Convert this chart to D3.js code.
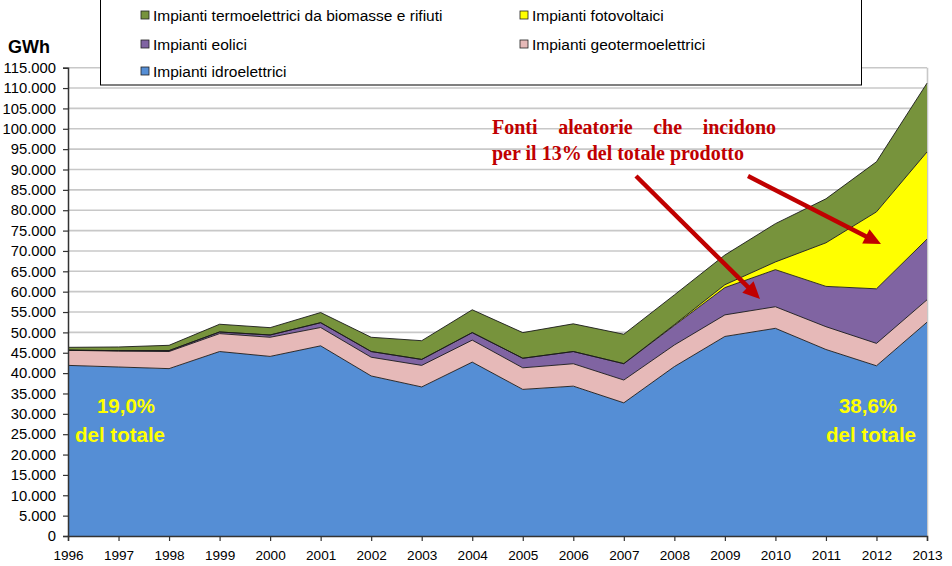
<!DOCTYPE html>
<html><head><meta charset="utf-8">
<script src="https://cdn.jsdelivr.net/npm/d3@7/dist/d3.min.js"></script>
<style>body{margin:0;background:#fff}svg{display:block}</style>
</head><body>
<svg id="chart" width="952" height="566"></svg>
<script>
// ---- data (GWh) ----
const years = [1996,1997,1998,1999,2000,2001,2002,2003,2004,2005,2006,2007,2008,2009,2010,2011,2012,2013];
const idroelettrici   = [41900,41500,41100,45300,44100,46700,39300,36600,42700,36000,36800,32700,41600,49000,51000,45800,41800,52500];
const geotermoelettrici = [3700,3900,4200,4400,4700,4500,4600,5300,5400,5300,5500,5600,5300,5300,5300,5600,5500,5500];
const eolici          = [30,120,230,400,560,1180,1400,1460,1850,2350,3000,4000,4800,6700,9100,9900,13400,14900];
const fotovoltaici    = [0,0,0,0,0,0,0,0,0,0,0,40,200,700,1900,10700,18900,21400];
const biomasse        = [700,900,1300,1900,1800,2500,3500,4600,5600,6300,6800,7200,7300,7300,9400,10800,12300,16900];
const yTicks = d3.range(0, 115001, 5000);

const seriesKeys = ["idro","geo","eol","fv","bio"];
const seriesNames = {
  bio:"Impianti termoelettrici da biomasse e rifiuti",
  fv:"Impianti fotovoltaici",
  eol:"Impianti eolici",
  geo:"Impianti geotermoelettrici",
  idro:"Impianti idroelettrici"
};
const legendOrder = ["bio","fv","eol","geo","idro"];
const colors = {idro:"#558ED5", geo:"#E6B9B8", eol:"#8064A2", fv:"#FFFF00", bio:"#77933C"};

const table = years.map((y,i)=>({year:y, idro:idroelettrici[i], geo:geotermoelettrici[i], eol:eolici[i], fv:fotovoltaici[i], bio:biomasse[i]}));

// ---- layout ----
const svg = d3.select("#chart");
const L = 68, R = 927, T = 67.7, B = 536;
const x = d3.scaleLinear().domain([1996, 2013]).range([L, R]);
const y = d3.scaleLinear().domain([0, 115000]).range([B, T]);
const it = d3.formatLocale({decimal:",", thousands:".", grouping:[3], currency:["€",""]});
const fmt = it.format(",");

// gridlines
svg.append("g").selectAll("line").data(yTicks.filter(d=>d>0)).join("line")
  .attr("x1", L).attr("x2", R).attr("y1", d=>y(d)).attr("y2", d=>y(d))
  .attr("stroke", "#C8C8C8").attr("stroke-width", 1.6);
// plot border right
svg.append("line").attr("x1", R+0.5).attr("x2", R+0.5).attr("y1", T).attr("y2", B)
  .attr("stroke", "#C8C8C8").attr("stroke-width", 1.6);

// stacked areas
const stack = d3.stack().keys(seriesKeys)(table);
const area = d3.area().x(d=>x(d.data.year)).y0(d=>y(d[0])).y1(d=>y(d[1]));
const topLine = d3.line().x(d=>x(d.data.year)).y(d=>y(d[1]));
svg.append("g").selectAll("path").data(stack).join("path")
  .attr("d", area).attr("fill", d=>colors[d.key]);
svg.append("g").selectAll("path").data(stack).join("path")
  .attr("d", topLine).attr("fill", "none").attr("stroke", "#1a1a1a").attr("stroke-width", 0.9);

// axes
const yAxis = svg.append("g").attr("transform", `translate(${L},0)`)
  .call(d3.axisLeft(y).tickValues(yTicks).tickFormat(fmt).tickSize(5).tickPadding(7));
const xAxis = svg.append("g").attr("transform", `translate(0,${B})`)
  .call(d3.axisBottom(x).tickValues(years).tickFormat(d3.format("d")).tickSize(5).tickPadding(9));
[yAxis, xAxis].forEach(a=>{
  a.select(".domain").attr("stroke", "#333").attr("stroke-width", 1.5);
  a.selectAll(".tick line").attr("stroke", "#333").attr("stroke-width", 1.2);
  a.selectAll("text").attr("fill", "#000").attr("font-family", "Liberation Sans, Arial, sans-serif");
});
yAxis.selectAll("text").attr("font-size", 14.8);
xAxis.selectAll("text").attr("font-size", 13.6);

svg.append("text").attr("x", 8).attr("y", 53).text("GWh")
  .attr("font-family", "Liberation Sans, Arial, sans-serif").attr("font-weight", "bold").attr("font-size", 18);

// legend
svg.append("rect").attr("x", 100.5).attr("y", -1).attr("width", 761).attr("height", 86)
  .attr("fill", "#fff").attr("stroke", "#000").attr("stroke-width", 1);
const colX = [141, 520], rowY = [15, 44, 71];
const lg = svg.append("g").selectAll("g").data(legendOrder).join("g")
  .attr("transform", (d,i)=>`translate(${colX[i%2]},${rowY[Math.floor(i/2)]})`);
lg.append("rect").attr("x", 0).attr("y", -4).attr("width", 8).attr("height", 8)
  .attr("fill", d=>colors[d]).attr("stroke", "#222").attr("stroke-width", 0.8);
lg.append("text").attr("x", 12).attr("y", 5.5).text(d=>seriesNames[d])
  .attr("font-family", "Liberation Sans, Arial, sans-serif").attr("font-size", 15.5).attr("fill", "#000");

// yellow share labels
const shareStyle = s=>s.attr("font-family","Liberation Sans, Arial, sans-serif").attr("font-weight","bold")
  .attr("font-size",20.5).attr("fill","#FFFF00").attr("text-anchor","middle");
svg.append("text").attr("x", 126).attr("y", 413).text("19,0%").call(shareStyle);
svg.append("text").attr("x", 120).attr("y", 442).text("del totale").call(shareStyle);
svg.append("text").attr("x", 868).attr("y", 413).text("38,6%").call(shareStyle);
svg.append("text").attr("x", 871).attr("y", 442).text("del totale").call(shareStyle);

// annotation
const red = "#C00000";
const annStyle = s=>s.attr("font-family","Liberation Serif, DejaVu Serif, serif").attr("font-weight","bold")
  .attr("font-size",20).attr("fill",red);
const words = ["Fonti","aleatorie","che","incidono"];
const wg = svg.append("g");
const wt = words.map(w=>wg.append("text").attr("y",134).text(w).call(annStyle));
const widths = wt.map(t=>t.node().getComputedTextLength());
const x0 = 492, x1 = 776;
const gap = (x1 - x0 - d3.sum(widths)) / (words.length - 1);
let cx = x0;
wt.forEach((t,i)=>{ t.attr("x", cx); cx += widths[i] + gap; });
svg.append("text").attr("x", 492).attr("y", 160).text("per il 13% del totale prodotto").call(annStyle);

function arrow(xa, ya, xb, yb){
  const ang = Math.atan2(yb-ya, xb-xa), len = 17, hw = 8;
  const bx = xb - len*Math.cos(ang), by = yb - len*Math.sin(ang);
  svg.append("line").attr("x1", xa).attr("y1", ya).attr("x2", bx+2*Math.cos(ang)).attr("y2", by+2*Math.sin(ang))
    .attr("stroke", red).attr("stroke-width", 4.5);
  const px = -Math.sin(ang), py = Math.cos(ang);
  svg.append("path").attr("d", `M${xb},${yb}L${bx+hw*px},${by+hw*py}L${bx-hw*px},${by-hw*py}Z`).attr("fill", red);
}
arrow(636, 176, 760, 299);
arrow(748, 176, 881, 244);
</script>
</body></html>
